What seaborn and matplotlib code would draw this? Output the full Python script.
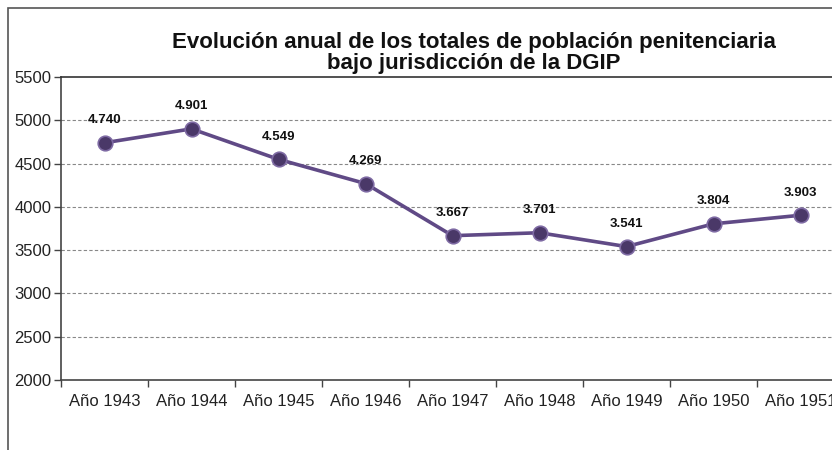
import matplotlib.pyplot as plt
import seaborn as sns
import pandas as pd
from matplotlib.patches import Rectangle

# datos
anios = ['Año 1943', 'Año 1944', 'Año 1945', 'Año 1946', 'Año 1947',
         'Año 1948', 'Año 1949', 'Año 1950', 'Año 1951']
poblacion = [4740, 4901, 4549, 4269, 3667, 3701, 3541, 3804, 3903]
etiquetas = ['4.740', '4.901', '4.549', '4.269', '3.667', '3.701', '3.541', '3.804', '3.903']

data = pd.DataFrame({'anio': anios, 'total': poblacion})

sns.set_style("white")
plt.rcParams['font.family'] = ['Liberation Sans', 'DejaVu Sans']

fig = plt.figure(figsize=(8.32, 4.5), dpi=100)
W, H = 832, 450
# eje: de x=61 a x=844 (se corta a la derecha), y de 77 a 380
ax = fig.add_axes([61 / W, 1 - 380 / H, 783 / W, 303 / H])

sns.lineplot(data=data, x='anio', y='total', ax=ax, color='#604A86', linewidth=2.6,
             marker='o', markersize=10.5, markerfacecolor='#4A3868',
             markeredgecolor='#7E6AA3', markeredgewidth=1.2, sort=False)

for i, (v, t) in enumerate(zip(poblacion, etiquetas)):
    ax.annotate(t, (i, v), xytext=(0, 12), textcoords='offset points',
                ha='center', va='bottom', fontsize=9.5, fontweight='bold', color='#111111')

ax.set_xlim(-0.5, 8.5)
ax.set_ylim(2000, 5500)
ax.set_yticks(range(2000, 5501, 500))
ax.set_xticks(range(len(anios)))
ax.set_xticklabels(anios)
ax.set_xticks([i - 0.5 for i in range(len(anios) + 1)], minor=True)
ax.tick_params(axis='x', which='major', length=0, pad=10, labelsize=12, labelcolor='#222222')
ax.tick_params(axis='x', which='minor', length=5, width=1, color='#444444', direction='out')
ax.tick_params(axis='y', which='major', length=5, width=1, color='#444444', direction='out',
               pad=2, labelsize=12, labelcolor='#222222')
ax.tick_params(left=True, bottom=False)
ax.tick_params(axis='x', which='minor', bottom=True)

for y in range(2500, 5001, 500):
    ax.axhline(y, color='#888888', linestyle=(0, (3, 2)), linewidth=0.8, zorder=0)

ax.spines['left'].set_color('#444444')
ax.spines['bottom'].set_color('#444444')
ax.spines['top'].set_color('#333333')
ax.spines['right'].set_visible(False)
for s in ['left', 'bottom', 'top']:
    ax.spines[s].set_linewidth(1.2)

ax.set_xlabel('')
ax.set_ylabel('')

fig.text(474 / W, 1 - 53 / H,
         'Evolución anual de los totales de población penitenciaria\nbajo jurisdicción de la DGIP',
         ha='center', va='center', fontsize=16, fontweight='bold', linespacing=1.0, color='#111111')

# marco del gráfico (se corta a la derecha y abajo)
fig.patches.append(Rectangle((8 / W, -0.1), 1.1, 1 - 8 / H + 0.1, transform=fig.transFigure,
                             fill=False, edgecolor='#555555', linewidth=1.2))

plt.savefig('out.png', dpi=100)
